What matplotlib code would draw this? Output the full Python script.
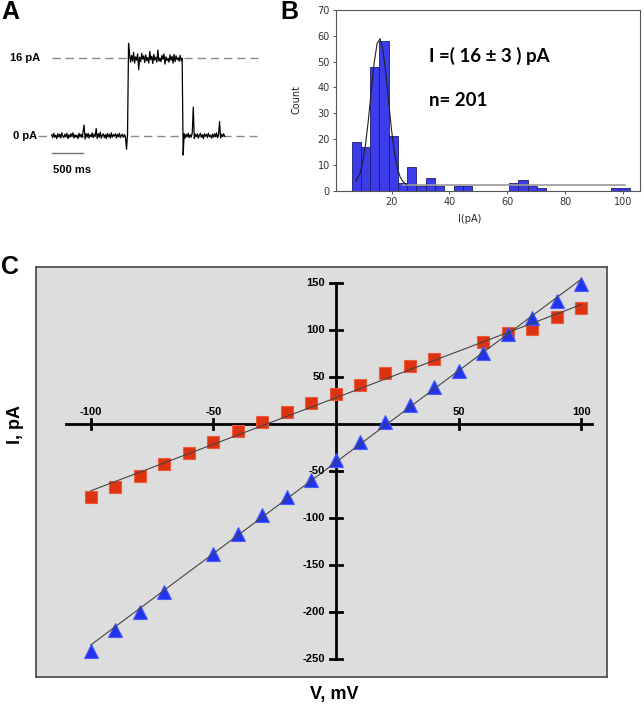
import numpy as np
import matplotlib
matplotlib.use('Agg')
import matplotlib.pyplot as plt

# ---- panel A: single channel recording (pA), one sample every 16 ms
trace_dt_ms = 16
trace_pa = [
    0.2, -0.4, 0.5, -0.3, 0.1, -0.6, 0.4, -0.2, 0.3, -0.5, 0.6, -0.1, -0.4, 0.3, -0.2, 0.5, -0.6, 0.2, -0.3, 0.4,
    -0.1, 0.6, -0.5, 0.2, -0.3, 0.1, -0.6, 0.5, -0.2, 0.3, -0.4, 0.8, 2.2, -0.7, 0.4, -0.3, 0.5, -0.5, 0.2, -0.2,
    0.6, -0.4, 0.3, -0.1, 1.5, -0.6, 0.4, -0.3, 0.7, -0.5, 0.1, 0.4, -0.4, 0.2, -0.6, 0.5, -0.2, 0.3, -0.5, 0.6,
    -0.3, 0.2, -0.1, 0.4, -0.5, 0.3, -0.2, 0.5, -0.4, 0.1, 0.3, -0.3, 0.2, -0.4, -2.8, 0.3,
    19.1, 16.8, 15.2, 16.6, 15.4, 17.2, 15.0, 16.3, 15.6, 16.9, 13.6, 16.2, 15.3, 17.0, 15.8, 16.5, 15.1, 16.7, 15.5, 16.1,
    15.0, 17.4, 15.7, 16.4, 14.9, 16.8, 15.6, 16.2, 15.2, 17.7, 15.4, 16.0, 15.3, 16.6, 15.8, 16.9, 14.8, 16.3, 15.5, 16.0,
    15.2, 16.7, 15.6, 16.4, 15.0, 16.8, 15.3, 16.5, 15.7, 16.1, 15.4, 16.6, 15.5, 16.0,
    -4.0, 0.4, -0.5, 0.3, -0.2, 0.5, -0.4, 0.2, -0.3, 0.6, 5.9, -0.6, 0.3, -0.2, 0.4, -0.5, 0.1, 0.5, -0.3, 0.2,
    -0.6, 0.4, -0.1, 0.3, -0.4, 0.5, -0.2, 0.1, -0.5, 0.3, -0.3, 0.4, -0.2, 0.6, -0.4, 0.2, 2.9, -0.5, 0.3, -0.2,
    0.4, -0.1,
]
levels_pa = [16, 0]
level_labels = ['16 pA', '0 pA']

# ---- panel B: amplitude histogram
bin_left = [6.2, 9.4, 12.6, 15.8, 19.0, 22.2, 25.4, 28.6, 31.8, 35.0, 38.2, 41.4, 44.6, 47.8, 51.0,
            54.2, 57.4, 60.6, 63.8, 67.0, 70.2, 73.4, 76.6, 79.8, 83.0, 86.2, 89.4, 92.6, 95.8, 99.0]
bin_width = 3.2
bin_counts = [19, 17, 48, 58, 21, 3, 9, 2, 5, 2, 0, 2, 2, 0, 0, 0, 0, 3, 4, 2, 1, 0, 0, 0, 0, 0, 0, 0, 1, 1]
fit_x = [7.7, 9, 10, 11, 12, 13, 14, 15, 16, 17, 18, 19, 20, 21, 22, 23, 24, 25]
fit_y = [3.8, 6.4, 10.8, 17.9, 27.6, 38.9, 49.6, 57.0, 58.9, 54.6, 45.6, 34.3, 23.4, 14.7, 8.7, 5.2, 3.4, 2.5]
tail_x = [24, 100.5]
tail_y = [2.1, 2.1]

# ---- panel C: I-V curves
v_red = [-100, -90, -80, -70, -60, -50, -40, -30, -20, -10, 0, 10, 20, 30, 40, 60, 70, 80, 90, 100]
i_red = [-78, -66.7, -55, -43, -31, -19.5, -7.5, 1.8, 12.4, 22, 32, 41.5, 54.6, 61.7, 69, 87.6, 96.5, 101, 113.5, 123]
v_blue = [-100, -90, -80, -70, -50, -40, -30, -20, -10, 0, 10, 20, 30, 40, 50, 60, 70, 80, 90, 100]
i_blue = [-241.5, -219.5, -200, -179, -138, -117, -97, -78, -59, -38, -19, 2, 20, 39, 56, 76, 96, 113, 131, 149]
fit_v = [-100, 100]
fit_red = [-71, 127]
fit_blue = [-235, 154]
x_ticks = [-100, -50, 50, 100]
y_ticks = [150, 100, 50, -50, -100, -150, -200, -250]

W, H = 644, 708
fig = plt.figure(figsize=(W / 100, H / 100), dpi=100)


def box(x0, y0, x1, y1):
    # pixel box (top-left origin) -> figure rect
    return [x0 / W, 1 - y1 / H, (x1 - x0) / W, (y1 - y0) / H]


def fpos(x, y):
    return x / W, 1 - y / H


bold = dict(family=['Liberation Sans', 'DejaVu Sans'], fontweight='bold')
narrow = dict(family=['Liberation Sans Narrow', 'Liberation Sans', 'DejaVu Sans'], fontweight='bold')

# ================= A
ms_per_px = 500 / 31.6
pa_per_px = 1 / 4.84
axA = fig.add_axes(box(0, 30, 290, 190))
axA.set_xlim(-51.7 * ms_per_px, (290 - 51.7) * ms_per_px)
axA.set_ylim((135.7 - 190) * pa_per_px, (135.7 - 30) * pa_per_px)
axA.axis('off')
t = np.arange(len(trace_pa)) * trace_dt_ms
axA.plot(t, trace_pa, color='black', lw=0.9, zorder=3)
axA.plot([0, 3260], [levels_pa[0]] * 2, color='#8a8a8a', lw=1, dashes=[6, 3.5])
axA.plot([-216, 3250], [levels_pa[1]] * 2, color='#8a8a8a', lw=1, dashes=[6, 3.5])
axA.text(-185, levels_pa[0], level_labels[0], ha='right', va='center', fontsize=8, **bold)
axA.text(-232, levels_pa[1], level_labels[1], ha='right', va='center', fontsize=8, **bold)
axA.plot([0, 500], [-3.64, -3.64], color='#777777', lw=1)
axA.text(20, -7.1, '500 ms', ha='left', va='center', fontsize=8, **bold)

# ================= B
axB = fig.add_axes(box(336, 10, 640, 190.7))
axB.bar(bin_left, bin_counts, width=bin_width, align='edge', color='#3c3ceb',
        edgecolor='#1c1c70', linewidth=0.6, zorder=2)
axB.plot(tail_x, tail_y, color='#9a9a9a', lw=1.2, zorder=3)
axB.plot(fit_x, fit_y, color='#202020', lw=0.8, zorder=4)
axB.set_xlim(0.8, 105.8)
axB.set_ylim(0, 70)
axB.set_xticks([20, 40, 60, 80, 100])
axB.set_yticks(range(0, 71, 10))
axB.tick_params(labelsize=7, length=2.5, width=0.6, colors='#333333', pad=2)
for s in axB.spines.values():
    s.set_color('#555555')
    s.set_linewidth(0.8)
axB.text(0.305, 0.745, 'I =( 16 ± 3 ) pA', transform=axB.transAxes, ha='left', va='center',
         fontsize=13.5, family=['Lato', 'DejaVu Sans'], fontweight='bold')
axB.text(0.305, 0.50, 'n= 201', transform=axB.transAxes, ha='left', va='center',
         fontsize=13.5, family=['Lato', 'DejaVu Sans'], fontweight='bold')
fig.text(*fpos(296, 100), 'Count', rotation=90, ha='center', va='center', fontsize=7, color='#222222')
fig.text(*fpos(470, 219), 'I(pA)', ha='center', va='center', fontsize=7, color='#222222')

# ================= C
axC = fig.add_axes(box(36, 267, 607, 677))
axC.set_facecolor('#dddddd')
axC.set_xlim(-122.3, 110.5)
axC.set_ylim(-269, 167)
axC.set_xticks([])
axC.set_yticks([])
for s in axC.spines.values():
    s.set_color('#444444')
    s.set_linewidth(1.2)

# axes drawn through the origin
axC.plot([-110, 104.4], [0, 0], color='black', lw=2, zorder=2)
axC.plot([0, 0], [-250, 150], color='black', lw=2, zorder=2)
for v in x_ticks:
    axC.plot([v, v], [-5.5, 5.5], color='black', lw=2, zorder=2)
    axC.text(v, 13, str(v), ha='center', va='center', fontsize=8, zorder=5, **narrow)
for v in y_ticks:
    axC.plot([-2.3, 2.3], [v, v], color='black', lw=2, zorder=2)
    axC.text(-4.5, v, str(v), ha='right', va='center', fontsize=8, zorder=5, **narrow)

axC.plot(v_red, i_red, 's', ms=8.6, color='#dd3311', mec='#ee5a3a', mew=0.8, zorder=3)
axC.plot(v_blue, i_blue, '^', ms=10.5, color='#2233ee', mec='#4a5cff', mew=0.8, zorder=3)
axC.plot(fit_v, fit_red, color='#444444', lw=0.8, zorder=4)
axC.plot(fit_v, fit_blue, color='#444444', lw=0.8, zorder=4)

fig.text(*fpos(15, 424), 'I, pA', rotation=90, ha='center', va='center', fontsize=13, **narrow)
fig.text(*fpos(334, 694), 'V, mV', ha='center', va='center', fontsize=13, **narrow)

# panel letters
fig.text(*fpos(10, 12), 'A', ha='center', va='center', fontsize=18, **bold)
fig.text(*fpos(289, 12), 'B', ha='center', va='center', fontsize=18, **bold)
fig.text(*fpos(10, 267), 'C', ha='center', va='center', fontsize=18, **bold)

fig.savefig('out.png', dpi=100)
